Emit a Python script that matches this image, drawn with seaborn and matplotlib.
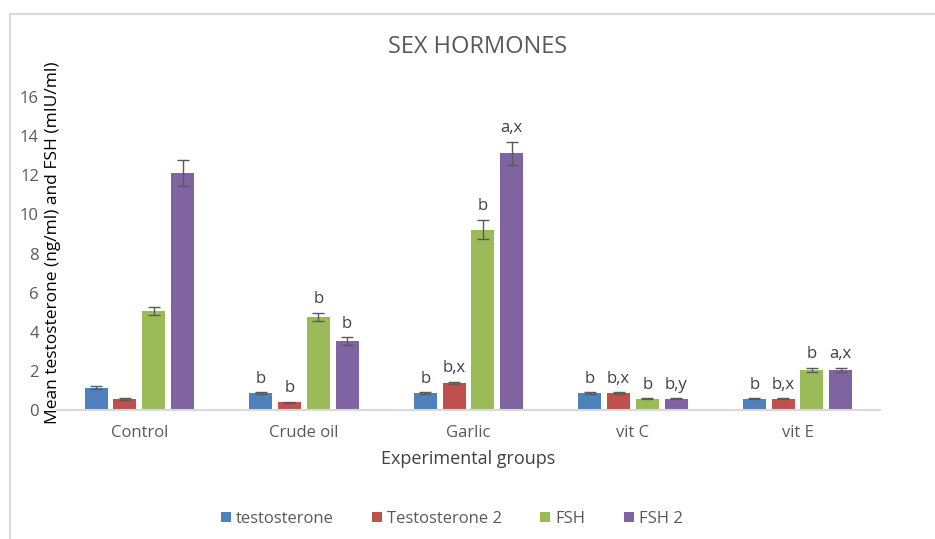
import matplotlib
matplotlib.use("Agg")
import matplotlib.pyplot as plt
import seaborn as sns
import pandas as pd
import numpy as np
from matplotlib.lines import Line2D

groups = ["Control", "Crude oil", "Garlic", "vit C", "vit E"]
series = ["testosterone", "Testosterone 2", "FSH", "FSH 2"]
testosterone = [1.15, 0.87, 0.87, 0.87, 0.58]
testosterone2 = [0.56, 0.39, 1.40, 0.87, 0.58]
fsh = [5.08, 4.77, 9.22, 0.58, 2.05]
fsh2 = [12.12, 3.53, 13.12, 0.58, 2.05]
err_testosterone = [0.08, 0.03, 0.03, 0.03, 0.03]
err_testosterone2 = [0.03, 0.03, 0.05, 0.03, 0.03]
err_fsh = [0.20, 0.20, 0.50, 0.03, 0.10]
err_fsh2 = [0.65, 0.20, 0.60, 0.03, 0.10]
lab_testosterone = ["", "b", "b", "b", "b"]
lab_testosterone2 = ["", "b", "b,x", "b,x", "b,x"]
lab_fsh = ["", "b", "b", "b", "b"]
lab_fsh2 = ["", "b", "a,x", "b,y", "a,x"]

colors = ["#4F81BD", "#C0504D", "#9BBB59", "#8064A2"]

vals = [testosterone, testosterone2, fsh, fsh2]
errs = [err_testosterone, err_testosterone2, err_fsh, err_fsh2]
labs = [lab_testosterone, lab_testosterone2, lab_fsh, lab_fsh2]

rows = []
for s, v in zip(series, vals):
    for g, x in zip(groups, v):
        rows.append({"group": g, "series": s, "value": x})
df = pd.DataFrame(rows)

sns.set_theme(style="white")
plt.rcParams["font.family"] = ["Open Sans", "DejaVu Sans"]

fig = plt.figure(figsize=(9.35, 5.39), dpi=100)
ax = fig.add_axes([0.061, 0.2393, 0.880, 0.635])

sns.barplot(data=df, x="group", y="value", hue="series", order=groups,
            hue_order=series, palette=colors, width=0.7, gap=0.2,
            errorbar=None, ax=ax, legend=True, saturation=1, linewidth=0)

bars = list(ax.patches)[:len(series) * len(groups)]
for si in range(len(series)):
    for gi in range(len(groups)):
        p = bars[si * len(groups) + gi]
        cx = p.get_x() + p.get_width() / 2
        h = p.get_height()
        e = errs[si][gi]
        ax.errorbar(cx, h, yerr=e, color="#595959", capsize=4, elinewidth=1,
                    capthick=1, fmt="none", zorder=5)
        if labs[si][gi]:
            ax.annotate(labs[si][gi], (cx, h + e), xytext=(0, 4),
                        textcoords="offset points", ha="center", va="bottom",
                        fontsize=12, color="#404040")

ax.set_ylim(0, 17.5)
ax.set_yticks(np.arange(0, 17, 2))
ax.set_xlim(-0.5, len(groups) - 0.5)
for s in ["top", "right", "left"]:
    ax.spines[s].set_visible(False)
ax.spines["bottom"].set_color("#D9D9D9")
ax.spines["bottom"].set_linewidth(1.5)
ax.tick_params(axis="both", length=0, colors="#595959", labelsize=12)
ax.tick_params(axis="y", pad=13)
ax.tick_params(axis="x", pad=11)

ax.set_xlabel("Experimental groups", fontsize=13, color="#404040", labelpad=6)
ax.set_ylabel("Mean testosterone (ng/ml) and FSH (mIU/ml)", fontsize=12.5,
              color="black")
ax.yaxis.set_label_coords(0.005, 0.49)

fig.text(0.511, 0.913, "SEX HORMONES", ha="center", va="center",
         fontsize=17, color="#595959")

handles, labels_ = ax.get_legend_handles_labels()
ax.legend_.remove()
fig.legend(handles, labels_, loc="center", bbox_to_anchor=(0.483, 0.037),
           ncol=4, frameon=False, fontsize=12, handlelength=0.6,
           handleheight=0.6, handletextpad=0.3, columnspacing=2.3,
           labelcolor="#595959")

fig.add_artist(Line2D([10 / 935, 1], [1 - 14 / 539, 1 - 14 / 539],
                      transform=fig.transFigure, color="#D9D9D9", lw=1.5))
fig.add_artist(Line2D([10 / 935, 10 / 935], [0, 1 - 14 / 539],
                      transform=fig.transFigure, color="#D9D9D9", lw=1.5))

fig.savefig("out.png", dpi=100)
